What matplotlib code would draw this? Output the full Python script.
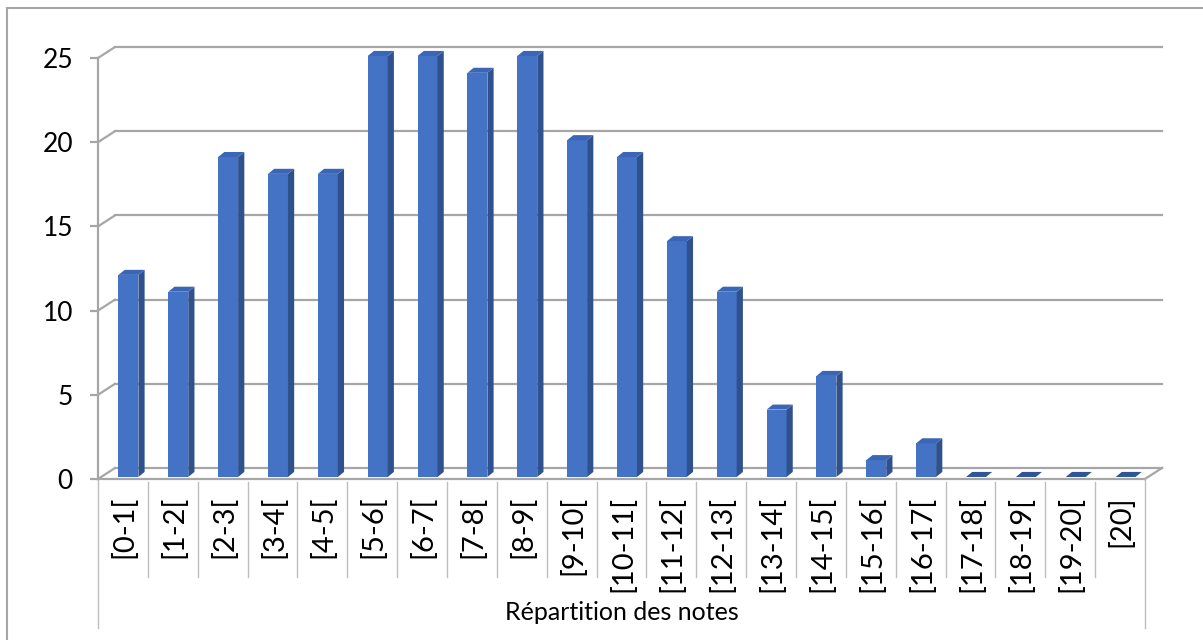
import matplotlib.pyplot as plt
from matplotlib.lines import Line2D
from matplotlib.patches import Polygon, Rectangle

categories = ["[0-1[", "[1-2[", "[2-3[", "[3-4[", "[4-5[", "[5-6[", "[6-7[",
              "[7-8[", "[8-9[", "[9-10[", "[10-11[", "[11-12[", "[12-13[",
              "[13-14[", "[14-15[", "[15-16[", "[16-17[", "[17-18[",
              "[18-19[", "[19-20[", "[20]"]
values = [12, 11, 19, 18, 18, 25, 25, 24, 25, 20, 19, 14, 11, 4, 6, 1, 2, 0, 0, 0, 0]
yticks = [0, 5, 10, 15, 20, 25]
axis_title = "Répartition des notes"

plt.rcParams["font.family"] = ["Lato", "DejaVu Sans"]

FACE = "#4472C4"
SIDE = "#2F528F"
TOP = "#3B66B6"
GRID = "#A6A6A6"
BOX = "#BDBDBD"

# pseudo-3D offsets (data units)
back_dx, back_dy = 0.341, 0.653
bar_x0, bar_w, bar_b = 0.41, 0.40, 0.12
side_dx, side_dy = 0.125, 0.30

fig = plt.figure(figsize=(12.03, 6.40), dpi=100)
# chart frame (left and top edges visible)
fx, fy = 6.5 / 1203, 1 - 8 / 640
fig.lines.append(Line2D([fx, fx], [0, fy], transform=fig.transFigure, color="#A6A6A6", lw=1.5))
fig.lines.append(Line2D([fx, 1], [fy, fy], transform=fig.transFigure, color="#A6A6A6", lw=1.5))

ax = fig.add_axes([98 / 1203, 161 / 640, 1047 / 1203, 421 / 640])
n = len(categories)
ax.set_xlim(0, n)
ax.set_ylim(0, 25)

for s in ["top", "right", "bottom"]:
    ax.spines[s].set_visible(False)
ax.spines["left"].set_color(GRID)
ax.spines["left"].set_linewidth(1.6)
ax.set_xticks([])
ax.set_yticks(yticks)
ax.tick_params(axis="y", length=6, width=1.6, color=GRID, pad=12, labelsize=19)

# back wall gridlines + connectors
for v in yticks:
    ax.plot([back_dx, n + back_dx], [v + back_dy, v + back_dy], color=GRID, lw=1.6,
            clip_on=False, zorder=1)
    ax.plot([0, back_dx], [v, v + back_dy], color=GRID, lw=1.6, clip_on=False, zorder=1)

# floor
ax.plot([0, n], [0, 0], color=GRID, lw=1.6, clip_on=False, zorder=1)
ax.plot([n, n + back_dx], [0, back_dy], color=GRID, lw=1.6, clip_on=False, zorder=1)

# bars
for i, v in enumerate(values):
    x0 = i + bar_x0
    x1 = x0 + bar_w
    b = bar_b
    t = b + v
    if v > 0:
        ax.add_patch(Rectangle((x0, b), bar_w, v, facecolor=FACE, edgecolor="none",
                               clip_on=False, zorder=3))
        ax.add_patch(Polygon([(x1, b), (x1 + side_dx, b + side_dy),
                              (x1 + side_dx, t + side_dy), (x1, t)],
                             closed=True, facecolor=SIDE, edgecolor="none",
                             clip_on=False, zorder=3))
    ax.add_patch(Polygon([(x0, t), (x1, t), (x1 + side_dx, t + side_dy),
                          (x0 + side_dx, t + side_dy)],
                         closed=True, facecolor=TOP if v > 0 else "#2F5597",
                         edgecolor="none", clip_on=False, zorder=4))

# category label boxes
for i in range(1, n):
    ax.plot([i, i], [-0.15, -5.82], color=BOX, lw=1.0, clip_on=False)
ax.plot([0, 0], [0, -8.85], color=BOX, lw=1.0, clip_on=False)
ax.plot([n, n], [0, -8.85], color=BOX, lw=1.0, clip_on=False)

for i, c in enumerate(categories):
    ax.text(i + 0.52, -1.0, c, rotation=90, ha="center", va="top", fontsize=21,
            clip_on=False)

ax.text(n / 2, -7.95, axis_title, ha="center", va="center", fontsize=18, clip_on=False)

fig.savefig("out.png", dpi=100)
